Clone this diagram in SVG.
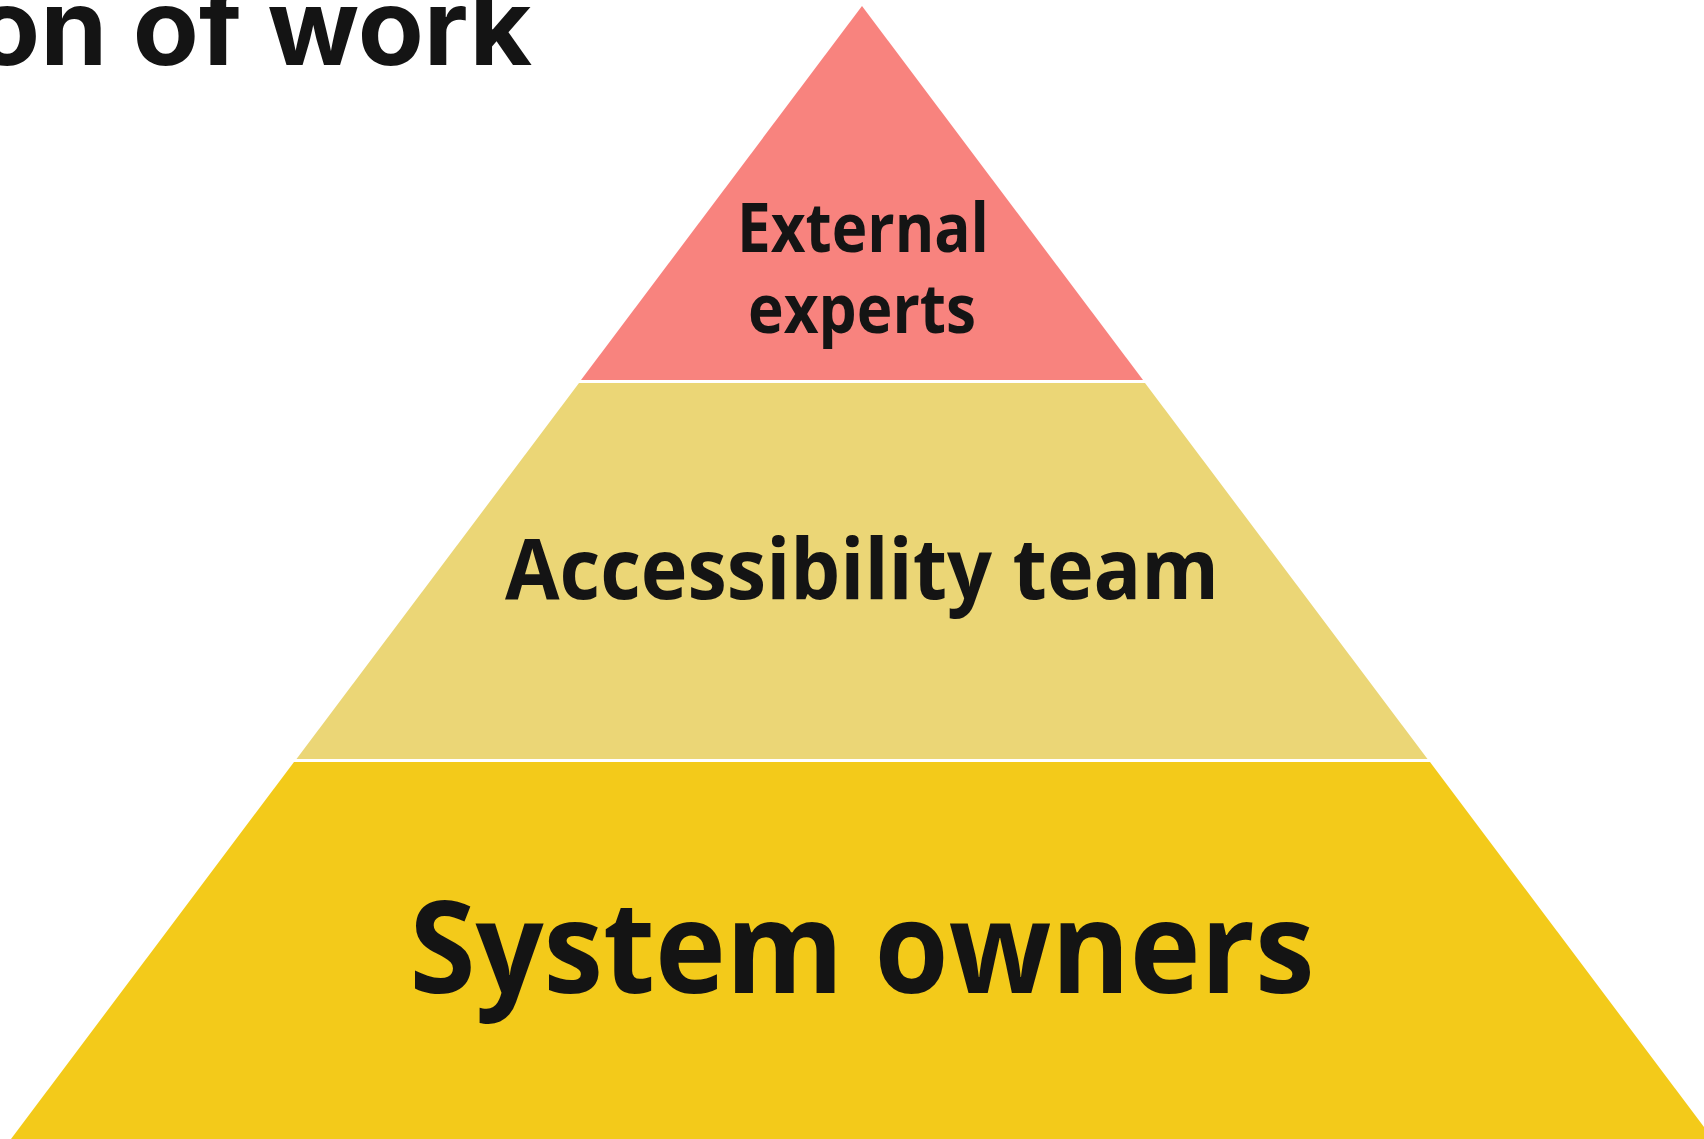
<svg xmlns="http://www.w3.org/2000/svg" width="1704" height="1139" viewBox="0 0 1704 1139">
<style>
.lbl{font-family:"Open Sans","Noto Sans","Liberation Sans",sans-serif;font-weight:700;fill:#141414;text-anchor:middle}
.title{font-family:Inter,"Noto Sans","Liberation Sans",sans-serif;font-weight:700;fill:#141414}
</style>
<rect width="1704" height="1139" fill="#ffffff"/>
<text class="title" x="-26" y="65" font-size="106" textLength="558" lengthAdjust="spacingAndGlyphs">on of work</text>
<g id="bottom-system-owners">
<polygon points="294,762 1430,762 1713,1139 11,1139" fill="#F3CA1A"/>
<text class="lbl" x="862" y="993" font-size="127" textLength="905" lengthAdjust="spacingAndGlyphs">System owners</text>
</g>
<g id="middle-accessibility-team">
<polygon points="579,383 1145,383 1427.5,759 296.5,759" fill="#EBD676"/>
<text class="lbl" x="862" y="599" font-size="85" textLength="714" lengthAdjust="spacingAndGlyphs">Accessibility team</text>
</g>
<g id="top-external-experts">
<polygon points="862,6 1143,380 581,380" fill="#F8837E"/>
<text class="lbl" x="863" y="252" font-size="68" textLength="252" lengthAdjust="spacingAndGlyphs">External</text>
<text class="lbl" x="862" y="333" font-size="68" textLength="228" lengthAdjust="spacingAndGlyphs">experts</text>
</g>
<g id="connectors"></g>
</svg>
